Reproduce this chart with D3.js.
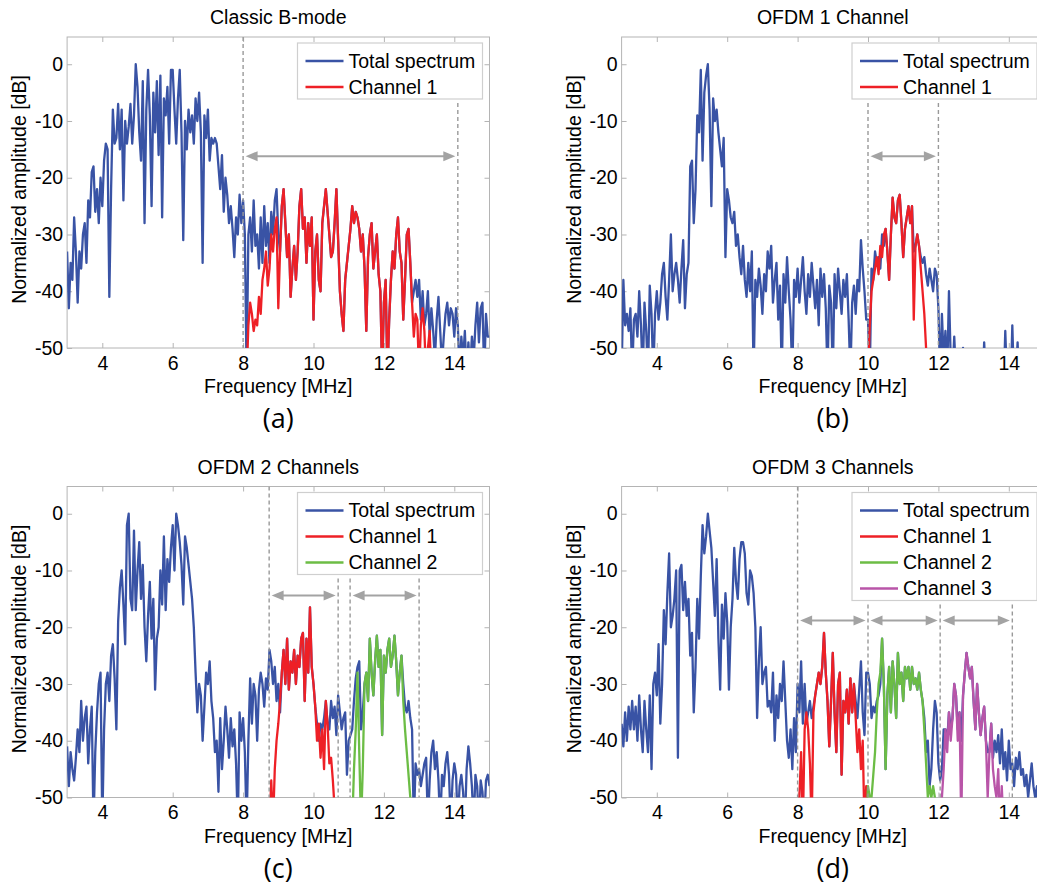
<!DOCTYPE html>
<html>
<head>
<meta charset="utf-8">
<script src="https://cdn.jsdelivr.net/npm/d3@7"></script>
<style>
  body { margin: 0; background: #fff; }
  text { font-family: "Liberation Sans", Arial, sans-serif; fill: #000; }
</style>
</head>
<body>
<svg id="fig" width="1037" height="884"></svg>
<script>
// frequency grid of every spectrum: 0.05 MHz, amplitudes in dB
const STEP = 0.05;
const xTickValues = [4, 6, 8, 10, 12, 14];
const yTickValues = [-50, -40, -30, -20, -10, 0];
const legendNames = ['Total spectrum', 'Channel 1', 'Channel 2', 'Channel 3'];
const lineColors = ['#3953a5', '#ee2026', '#6cbd45', '#b955a8'];

// (a) Classic B-mode, total spectrum from 3.00 MHz
const specA = [
  -33,-43,-35,-38,-27,-33,-42,-33,-36,-30,-28,-35,-24,-27,-19,-18,-26,-22,-28,-20,
  -25,-17,-14,-15,-41,-22,-8,-14,-13,-7,-15,-8,-24,-10,-14,-11,-7,-14,-9,0,
  -4,-12,-17,-3,-28,-8,-1,-9,-25,-5,-12,-3,-16,-2,-27,-6,-9,-4,-14,-1,
  -1,-8,-14,-6,-1,-12,-31,-10,-15,-8,-12,-9,-14,-6,-10,-5,-12,-35,-9,-13,
  -8,-17,-13,-14,-13,-14,-18,-22,-16,-26,-20,-23,-28,-25,-29,-34,-27,-30,-23,-28,
  -24,-30,-55,-30,-27,-33,-24,-32,-30,-36,-27,-35,-25,-32,-28,-35,-26,-30,-24,-22,
  -30,-33,-25,-22,-28,-34,-30,-41,-36,-32,-38,-33,-25,-22,-29,-27,-35,-28,-32,-27,
  -45,-33,-30,-38,-40,-28,-25,-22,-26,-30,-34,-33,-28,-22,-31,-40,-44,-47,-38,-35,
  -32,-29,-25,-28,-26,-27,-29,-33,-30,-36,-47,-34,-30,-28,-36,-33,-30,-37,-40,-55,
  -42,-38,-55,-45,-38,-33,-36,-30,-27,-33,-35,-45,-38,-30,-29,-35,-42,-40,-38,-41,
  -38,-45,-40,-46,-44,-40,-48,-43,-47,-52,-45,-41,-47,-53,-48,-44,-42,-46,-43,-44,
  -48,-43,-46,-55,-48,-52,-47,-55,-49,-54,-48,-52,-46,-42,-49,-43,-42,-55,-44,-48,
  -48
];
const chA1Start = 8.0;
const chA1 = [
  -55,-55,-55,-46,-42,-44,-47,-45,-46,-41,-44,-38,-36,-33,-39,-36,-30,-33,-29,-27,
  -43,-33,-25,-22,-28,-34,-30,-41,-36,-32,-38,-33,-25,-22,-29,-27,-35,-28,-32,-27,
  -45,-33,-30,-38,-40,-28,-25,-22,-26,-30,-34,-33,-28,-22,-31,-40,-44,-47,-38,-35,
  -32,-29,-25,-28,-26,-27,-29,-33,-30,-36,-47,-34,-30,-28,-36,-33,-30,-37,-40,-55,
  -42,-38,-55,-45,-38,-33,-36,-30,-27,-33,-35,-45,-38,-30,-29,-35,-42,-48,-44,-45,
  -55,-46,-43,-47,-55,-50,-47,-55,-55
];

// (b) OFDM 1 Channel
const specB = [
  -55,-38,-46,-44,-47,-43,-55,-45,-44,-48,-40,-46,-55,-42,-47,-55,-39,-44,-55,-44,
  -40,-45,-42,-37,-35,-41,-45,-38,-30,-40,-37,-35,-38,-42,-36,-31,-43,-37,-35,-18,
  -17,-28,-22,-9,-12,-1,-17,-5,-2,0,-8,-25,-6,-10,-8,-12,-15,-18,-13,-34,
  -22,-24,-27,-28,-26,-32,-30,-34,-37,-32,-38,-41,-35,-40,-33,-55,-38,-41,-36,-39,
  -44,-37,-40,-33,-36,-32,-42,-38,-35,-45,-39,-55,-37,-42,-34,-40,-45,-55,-38,-41,
  -36,-42,-38,-34,-40,-44,-37,-41,-35,-39,-43,-38,-46,-36,-41,-37,-43,-55,-39,-42,
  -55,-37,-43,-36,-40,-44,-38,-41,-37,-45,-55,-42,-39,-44,-38,-40,-31,-36,-40,-45,
  -45,-55,-36,-38,-33,-35,-34,-36,-30,-32,-29,-33,-38,-30,-23.5,-27,-28,-24,-23,-28,
  -34,-29,-27,-25,-28,-25,-33,-32,-30,-32,-34,-35,-34,-37,-39,-36,-38,-40,-36,-37,
  -43,-55,-44,-52,-47,-55,-40,-52,-55,-48,-55,-56,-52,-55,-50,-58,-56,-57,-55,-58,
  -56,-57,-59,-56,-55,-58,-49,-56,-57,-55,-58,-56,-57,-55,-57,-59,-56,-58,-47,-56,
  -55,-58,-46,-57,-55,-49,-58,-56,-60,-60,-60,-60,-60,-60,-60,-60,-60,-60,-60,-60,
  -60
];
const chB1Start = 10.0;
const chB1 = [
  -55,-46,-40,-38,-36,-34,-37,-32,-34,-30,-29,-33,-38,-30,-23.5,-27,-28,-24,-23,-28,
  -34,-29,-27,-25,-28,-25,-45,-32,-30,-32,-36,-40,-44,-50,-55,-60
];

// (c) OFDM 2 Channels
const specC = [
  -41,-48,-42,-45,-47,-43,-38,-42,-33,-40,-36,-34,-44,-38,-34,-55,-42,-35,-30,-28,
  -55,-38,-30,-28,-33,-25,-23,-29,-38,-19,-13,-10,-16,-23,-2,0,-15,-17,-3,-17,
  -10,-5,-15,-9,-20,-26,-18,-12,-22,-15,-31,-22,-20,-10,-16,-4,-17,-8,-12,-6,
  -2,-10,0,-2,-5,-9,-16,-4,-6,-9,-12,-15,-20,-28,-35,-30,-32,-40,-34,-28,
  -30,-26,-33,-36,-42,-40,-49,-36,-45,-40,-34,-38,-43,-36,-41,-38,-44,-55,-35,-40,
  -36,-42,-55,-40,-29,-37,-30,-32,-40,-31,-28,-30,-34,-29,-31,-24,-26,-30,-27,-33,
  -30,-35,-28,-24,-30,-22,-31,-26,-28,-24,-30,-25,-27,-22,-21,-33,-22,-28,-16.5,-27,
  -30,-34,-37,-40,-37,-38,-36,-33,-37,-38,-33,-36,-34,-39,-32,-35,-38,-36,-35,-46,
  -40,-39,-38,-33,-29,-27,-26,-38,-35,-30,-28,-33,-22,-28,-32,-26,-21.5,-27,-24,-39,
  -25,-28,-24,-22,-27,-25,-21.5,-26,-32,-28,-25,-30,-34,-35,-33,-36,-38,-55,-44,-46,
  -45,-48,-46,-44,-43,-55,-47,-42,-40,-45,-42,-47,-55,-46,-48,-44,-42,-46,-55,-47,
  -44,-46,-55,-48,-46,-49,-55,-45,-41,-44,-48,-55,-46,-48,-55,-47,-49,-55,-47,-46,
  -48
];
const chC1Start = 8.75;
const chC1 = [
  -55,-47,-55,-45,-40,-37,-33,-28,-24,-30,-22,-31,-26,-28,-24,-30,-25,-27,-22,-21,
  -33,-22,-28,-16.5,-27,-30,-34,-40,-37,-43,-38,-45,-33,-37,-44,-43,-47,-52,-58
];
const chC2Start = 11.1;
const chC2 = [
  -55,-45,-38,-28,-42,-55,-45,-30,-28,-33,-22,-28,-32,-26,-21.5,-27,-24,-39,-25,-28,
  -24,-22,-27,-25,-21.5,-26,-32,-28,-25,-33,-38,-42,-46,-50,-55
];

// (d) OFDM 3 Channels
const specD = [
  -37,-41,-35,-40,-34,-38,-33,-38,-34,-40,-32,-38,-42,-33,-38,-42,-32,-45,-30,-28,
  -32,-23,-37,-30,-17,-23,-14,-7,-20,-18,-15,-10,-43,-10,-9,-17,-12,-18,-15,-25,
  -21,-35,-27,-15,-22,-11,-2,-7,-4,0,-3,-6,-12,-18,-8,-22,-31,-16,-22,-14,
  -19,-31,-20,-15,-6,-12,-15,-8,-5,-5,-7,-14,-16,-10,-11,-14,-20,-36,-26,-20,
  -30,-28,-27,-34,-33,-35,-28,-40,-32,-36,-30,-33,-26,-33,-40,-43,-38,-45,-36,-42,
  -30,-35,-26,-37,-30,-37,-35,-33,-36,-34,-32,-30,-28,-30,-27,-21,-28,-33,-41,-33,
  -24.5,-35,-42,-30,-28,-46,-33,-35,-31,-37,-29,-35,-30,-33,-36,-31,-26,-35,-39,-28,
  -28,-30,-36,-34,-35,-33,-32,-30,-22,-30,-45,-32,-27,-35,-26,-30,-36,-24.5,-30,-28,
  -33,-27,-29,-27,-31,-27,-30,-29,-31,-28,-31,-33,-36,-42,-40,-48,-45,-38,-33,-35,
  -44,-47,-45,-38,-38,-40,-35,-38,-36,-30,-32,-38,-35,-40,-32,-28,-24.5,-27,-29,-27,
  -33,-38,-30,-35,-39,-36,-34,-40,-42,-42,-37,-43,-40,-42,-39,-44,-38,-45,-42,-47,
  -40,-45,-44,-48,-43,-45,-42,-46,-45,-48,-46,-50,-47,-44,-48,-50,-48,-52,-50,-53,
  -52
];
const chD1Start = 8.0;
const chD1 = [
  -55,-50,-42,-55,-38,-35,-38,-44,-55,-35,-32,-30,-28,-30,-27,-21,-28,-33,-41,-33,
  -24.5,-35,-42,-30,-28,-46,-33,-35,-31,-37,-29,-35,-30,-36,-42,-38,-45,-40,-55,-48,-55
];
const chD2Start = 9.95;
const chD2 = [
  -55,-48,-50,-50,-46,-42,-35,-30,-28,-22,-30,-45,-32,-27,-35,-26,-30,-36,-24.5,-30,
  -28,-33,-27,-29,-27,-31,-27,-30,-29,-31,-28,-31,-33,-38,-44,-50,-48,-50,-48,-50,-55
];
const chD3Start = 12.05;
const chD3 = [
  -55,-50,-45,-38,-42,-35,-40,-36,-30,-32,-40,-35,-55,-32,-28,-24.5,-27,-29,-27,-33,
  -38,-30,-35,-39,-36,-34,-40,-50,-42,-37,-45,-48,-50,-45,-55,-48,-55
];

// channel bands (MHz) marked by the double arrows, and the dB level of the arrows
const bandsA = [[8.0, 14.1]];
const bandsB = [[10.0, 12.0]];
const bandsC = [[8.74, 10.7], [11.04, 13.0]];
const bandsD = [[8.0, 10.0], [10.0, 12.05], [12.05, 14.1]];
const arrowLevels = [-16.2, -16.2, -14.4, -18.8];

const panels = [
  {title: 'Classic B-mode', tag: '(a)', left: 67.1, top: 37,
   spec: specA, channels: [[chA1Start, chA1]], bands: bandsA, arrowDb: arrowLevels[0]},
  {title: 'OFDM 1 Channel', tag: '(b)', left: 621.6, top: 37,
   spec: specB, channels: [[chB1Start, chB1]], bands: bandsB, arrowDb: arrowLevels[1]},
  {title: 'OFDM 2 Channels', tag: '(c)', left: 67.1, top: 486.5,
   spec: specC, channels: [[chC1Start, chC1], [chC2Start, chC2]], bands: bandsC, arrowDb: arrowLevels[2]},
  {title: 'OFDM 3 Channels', tag: '(d)', left: 621.6, top: 486.5,
   spec: specD, channels: [[chD1Start, chD1], [chD2Start, chD2], [chD3Start, chD3]], bands: bandsD, arrowDb: arrowLevels[3]}
];

const W = 422.4, H = 311;
const FONT = 19.5;
const svg = d3.select('#fig');

panels.forEach((p, k) => drawPanel(p, k));

function drawPanel(p, k) {
  const g = svg.append('g').attr('transform', `translate(${p.left},${p.top})`);
  const x = d3.scaleLinear().domain([3, 15]).range([0, W]);
  const y = d3.scaleLinear().domain([-50, 4.8]).range([H, 0]);

  g.append('clipPath').attr('id', 'clip' + k)
    .append('rect').attr('width', W).attr('height', H);

  // ticks on all four sides, pointing inward
  const axisColor = '#b4b4b4';
  const fmt = d => String(d);
  const axes = [
    [d3.axisBottom(x).tickValues(xTickValues).tickFormat(fmt), `translate(0,${H})`, 8],
    [d3.axisTop(x).tickValues(xTickValues).tickFormat(''), null, 0],
    [d3.axisLeft(y).tickValues(yTickValues).tickFormat(fmt), null, 4],
    [d3.axisRight(y).tickValues(yTickValues).tickFormat(''), `translate(${W},0)`, 0]
  ];
  axes.forEach(([ax, tr, pad]) => {
    const a = g.append('g').call(ax.tickSizeInner(-5).tickSizeOuter(0).tickPadding(pad));
    if (tr) a.attr('transform', tr);
    a.select('.domain').remove();
    a.selectAll('line').attr('stroke', axisColor);
    a.selectAll('text').attr('font-size', FONT).attr('font-family', '"Liberation Sans", Arial, sans-serif').attr('fill', '#000');
  });
  g.append('rect').attr('width', W).attr('height', H)
    .attr('fill', 'none').attr('stroke', axisColor).attr('stroke-width', 1);

  const plot = g.append('g').attr('clip-path', `url(#clip${k})`);
  const line = d3.line().x(d => x(d[0])).y(d => y(d[1]));
  const toPoints = (start, vals) => vals.map((v, i) => [start + i * STEP, v]);

  plot.append('path').datum(toPoints(3, p.spec))
    .attr('d', line).attr('fill', 'none')
    .attr('stroke', lineColors[0]).attr('stroke-width', 2.3).attr('stroke-linejoin', 'round');
  p.channels.forEach(([start, vals], i) => {
    plot.append('path').datum(toPoints(start, vals))
      .attr('d', line).attr('fill', 'none')
      .attr('stroke', lineColors[i + 1]).attr('stroke-width', 2.3).attr('stroke-linejoin', 'round');
  });

  // legend geometry
  const nLeg = p.channels.length + 1;
  const legW = 185, legH = 4 + 26 * nLeg;
  const legX = W - 7 - legW, legY = 6;

  // dashed band limits
  const limits = Array.from(new Set(p.bands.flat()));
  limits.forEach(f => {
    const px = x(f);
    const top = px > legX ? legY + legH + 4 : 0;
    plot.append('line')
      .attr('x1', px).attr('x2', px).attr('y1', top).attr('y2', H)
      .attr('stroke', '#999').attr('stroke-width', 1.4).attr('stroke-dasharray', '4,3');
  });

  // double arrows
  const ay = y(p.arrowDb);
  const gap = 2.5, headL = 12, headW = 5, arrowColor = '#a3a3a3';
  p.bands.forEach(([f0, f1]) => {
    const x0 = x(f0) + gap, x1 = x(f1) - gap;
    g.append('line').attr('x1', x0 + 4).attr('x2', x1 - 4).attr('y1', ay).attr('y2', ay)
      .attr('stroke', arrowColor).attr('stroke-width', 2);
    g.append('path')
      .attr('d', `M${x0},${ay}L${x0 + headL},${ay - headW}L${x0 + headL},${ay + headW}Z`)
      .attr('fill', arrowColor);
    g.append('path')
      .attr('d', `M${x1},${ay}L${x1 - headL},${ay - headW}L${x1 - headL},${ay + headW}Z`)
      .attr('fill', arrowColor);
  });

  // legend
  const leg = g.append('g').attr('transform', `translate(${legX},${legY})`);
  leg.append('rect').attr('width', legW).attr('height', legH)
    .attr('fill', '#fff').attr('stroke', '#cfcfcf').attr('stroke-width', 1.2);
  d3.range(nLeg).forEach(i => {
    const ly = 18 + 26 * i;
    leg.append('line').attr('x1', 8).attr('x2', 46).attr('y1', ly).attr('y2', ly)
      .attr('stroke', lineColors[i]).attr('stroke-width', 2.3);
    leg.append('text').attr('x', 51).attr('y', ly).attr('dy', '0.35em')
      .attr('font-size', FONT).text(legendNames[i]);
  });

  // titles and labels
  g.append('text').attr('x', W / 2).attr('y', -13).attr('text-anchor', 'middle')
    .attr('font-size', FONT).text(p.title);
  g.append('text').attr('x', W / 2).attr('y', H + 45).attr('text-anchor', 'middle')
    .attr('font-size', FONT).text('Frequency [MHz]');
  g.append('text').attr('transform', `translate(-41,${H / 2 - 3}) rotate(-90)`)
    .attr('text-anchor', 'middle').attr('font-size', FONT).text('Normalized amplitude [dB]');
  g.append('text').attr('x', W / 2).attr('y', H + 80).attr('text-anchor', 'middle')
    .attr('font-size', 27).style('font-family', '"Open Sans", "Noto Sans", sans-serif')
    .text(p.tag);
}
</script>
</body>
</html>
